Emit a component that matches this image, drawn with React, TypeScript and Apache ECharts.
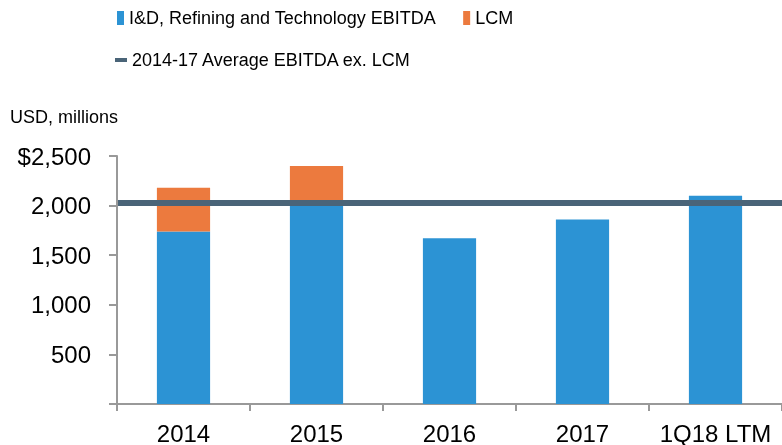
import React, { useEffect, useRef } from "react";
import * as echarts from "echarts";

const categories = ["2014", "2015", "2016", "2017", "1Q18 LTM"];
const idEbitda = [1740, 2020, 1670, 1860, 2100];
const lcm = [440, 380, 0, 0, 0];
const averageLine = [2030, 2030];
const yTicks = [0, 500, 1000, 1500, 2000, 2500];

const SERIES_ID = "I&D, Refining and Technology EBITDA";
const SERIES_LCM = "LCM";
const SERIES_AVG = "2014-17 Average EBITDA ex. LCM";

const FONT = "Liberation Sans, Arial, sans-serif";

export default function App() {
  const ref = useRef<HTMLDivElement>(null);
  useEffect(() => {
    if (!ref.current) return;
    const chart = echarts.init(ref.current, undefined, { renderer: "svg" });
    const gridTop = 156;
    const gridBottom = 39.5;
    chart.setOption({
      animation: false,
      textStyle: { fontFamily: FONT, color: "#000" },
      title: {
        text: "USD, millions",
        left: 10,
        top: 108,
        padding: 0,
        textStyle: { fontSize: 18, fontWeight: "normal", color: "#000", fontFamily: FONT },
      },
      legend: [
        {
          left: 117,
          top: 9,
          padding: 0,
          itemWidth: 7,
          itemHeight: 14,
          itemGap: 27,
          textStyle: { fontSize: 18, color: "#000", fontFamily: FONT },
          data: [
            { name: SERIES_ID, icon: "rect" },
            { name: SERIES_LCM, icon: "rect" },
          ],
        },
        {
          left: 115,
          top: 51,
          padding: 0,
          itemWidth: 12,
          itemHeight: 4,
          textStyle: { fontSize: 18, color: "#000", fontFamily: FONT },
          data: [{ name: SERIES_AVG, icon: "rect", itemStyle: { color: "#4a6478" } }],
        },
      ],
      grid: [
        { left: 117, width: 670, top: gridTop, bottom: gridBottom },
        { left: 117, right: 0, top: gridTop, bottom: gridBottom },
      ],
      xAxis: [
        {
          type: "category",
          gridIndex: 0,
          data: categories,
          axisLine: { lineStyle: { color: "#999", width: 2 } },
          axisTick: { show: true, interval: 0, length: 7, lineStyle: { color: "#999", width: 2 } },
          axisLabel: { interval: 0, fontSize: 24, color: "#000", margin: 17, fontFamily: FONT },
        },
        {
          type: "category",
          gridIndex: 1,
          data: ["a", "b"],
          boundaryGap: false,
          show: false,
        },
      ],
      yAxis: [
        {
          type: "value",
          gridIndex: 0,
          min: 0,
          max: 2500,
          interval: 500,
          z: 10,
          splitLine: { show: false },
          axisLine: { show: true, lineStyle: { color: "#999", width: 2 } },
          axisTick: { show: true, length: 8, lineStyle: { color: "#999", width: 2 } },
          axisLabel: {
            fontSize: 24,
            color: "#000",
            margin: 26,
            fontFamily: FONT,
            formatter: (v: number) => {
              if (v === yTicks[0]) return "";
              const s = v.toLocaleString("en-US");
              return v === yTicks[yTicks.length - 1] ? "$" + s : s;
            },
          },
        },
        {
          type: "value",
          gridIndex: 1,
          min: 0,
          max: 2500,
          show: false,
          splitLine: { show: false },
        },
      ],
      series: [
        {
          name: SERIES_ID,
          type: "bar",
          stack: "total",
          xAxisIndex: 0,
          yAxisIndex: 0,
          barWidth: "40%",
          itemStyle: { color: "#2c93d4" },
          data: idEbitda,
        },
        {
          name: SERIES_LCM,
          type: "bar",
          stack: "total",
          xAxisIndex: 0,
          yAxisIndex: 0,
          barWidth: "40%",
          itemStyle: { color: "#ec7a3e" },
          data: lcm,
        },
        {
          name: SERIES_AVG,
          type: "line",
          xAxisIndex: 1,
          yAxisIndex: 1,
          symbol: "none",
          z: 5,
          lineStyle: { color: "#4a6478", width: 6, cap: "butt" },
          itemStyle: { color: "#4a6478" },
          data: averageLine,
        },
      ],
    });
    return () => chart.dispose();
  }, []);
  return <div ref={ref} style={{ width: 782, height: 445, position: "fixed", left: 0, top: 0 }} />;
}
